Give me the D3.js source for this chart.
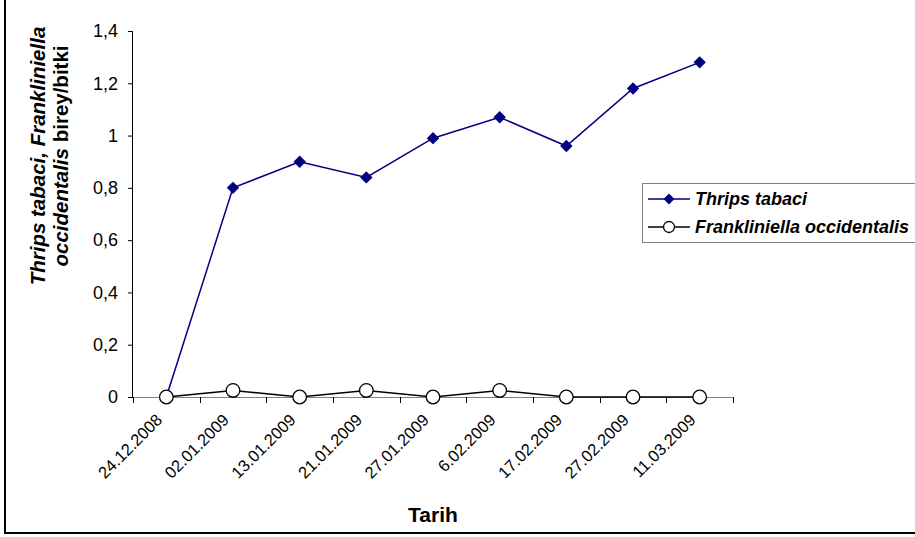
<!DOCTYPE html>
<html>
<head>
<meta charset="utf-8">
<script src="https://cdn.jsdelivr.net/npm/d3@7"></script>
<style>
  html, body { margin: 0; padding: 0; background: #fff; }
  svg { display: block; font-family: "Liberation Sans", Arial, sans-serif; }
</style>
</head>
<body>
<svg id="chart" width="915" height="537"></svg>
<script>
// Sampling dates (x categories)
const dates = ["24.12.2008", "02.01.2009", "13.01.2009", "21.01.2009", "27.01.2009",
               "6.02.2009", "17.02.2009", "27.02.2009", "11.03.2009"];
// Mean individuals per plant
const thripsTabaci = [0, 0.8, 0.9, 0.84, 0.99, 1.07, 0.96, 1.18, 1.28];
const franklOccidentalis = [0, 0.025, 0, 0.025, 0, 0.025, 0, 0, 0];
// Y axis tick values and labels
const yTicks = [0, 0.2, 0.4, 0.6, 0.8, 1, 1.2, 1.4];
const yTickLabels = ["0", "0,2", "0,4", "0,6", "0,8", "1", "1,2", "1,4"];

const svg = d3.select("#chart");
const plot = { left: 133, right: 733, top: 31, bottom: 397 };

const x = d3.scaleBand().domain(dates).range([plot.left, plot.right]).padding(0);
const y = d3.scaleLinear().domain([0, 1.4]).range([plot.bottom, plot.top]);
const cx = d => x(d) + x.bandwidth() / 2;

// Outer frame (left and bottom edges)
svg.append("line").attr("x1", 5).attr("x2", 5).attr("y1", 0).attr("y2", 534)
  .attr("stroke", "#000").attr("stroke-width", 2);
svg.append("line").attr("x1", 4).attr("x2", 915).attr("y1", 533).attr("y2", 533)
  .attr("stroke", "#000").attr("stroke-width", 2);

// Y axis
const yAxis = svg.append("g").attr("transform", `translate(${plot.left},0)`)
  .call(d3.axisLeft(y).tickValues(yTicks).tickSize(5).tickPadding(10)
    .tickFormat((d, i) => yTickLabels[i]));
yAxis.select(".domain").attr("stroke", "#000").attr("d", `M-0.5,${plot.top}V${plot.bottom}`);
yAxis.selectAll(".tick line").attr("stroke", "#000");
yAxis.selectAll(".tick text").attr("font-size", 18).attr("fill", "#000")
  .attr("font-family", "Liberation Sans, Arial, sans-serif");

// X axis with ticks at category boundaries
const xAxisG = svg.append("g").attr("transform", `translate(0,${plot.bottom})`);
xAxisG.append("line").attr("x1", plot.left).attr("x2", plot.right)
  .attr("y1", 0.5).attr("y2", 0.5).attr("stroke", "#808080");
const bounds = dates.map(d => x(d)).concat([plot.right]);
xAxisG.selectAll("line.tk").data(bounds).join("line").attr("class", "tk")
  .attr("x1", d => Math.round(d) + 0.5).attr("x2", d => Math.round(d) + 0.5)
  .attr("y1", 0).attr("y2", 6).attr("stroke", "#000");
xAxisG.selectAll("text").data(dates).join("text")
  .attr("transform", d => `translate(${cx(d) - 3},${24}) rotate(-45)`)
  .attr("text-anchor", "end")
  .attr("font-size", 16.5)
  .attr("fill", "#000")
  .text(d => d);

// X axis title
svg.append("text").attr("x", 433).attr("y", 522).attr("text-anchor", "middle")
  .attr("font-size", 21).attr("font-weight", "bold").text("Tarih");

// Y axis title (two lines, species names in italics)
const yTitle = svg.append("text").attr("transform", "rotate(-90)")
  .attr("text-anchor", "middle").attr("font-size", 20.5).attr("font-weight", "bold");
const l1 = yTitle.append("tspan").attr("x", -156).attr("y", 45);
l1.append("tspan").attr("font-style", "italic").text("Thrips tabaci, Frankliniella");
const l2 = yTitle.append("tspan").attr("x", -156).attr("y", 68);
l2.append("tspan").attr("font-style", "italic").text("occidentalis");
l2.append("tspan").text(" birey/bitki");

// Series lines
const line = d3.line().x((d, i) => cx(dates[i])).y(d => y(d));
svg.append("path").datum(franklOccidentalis).attr("d", line)
  .attr("fill", "none").attr("stroke", "#000").attr("stroke-width", 1.5);
svg.append("path").datum(thripsTabaci).attr("d", line)
  .attr("fill", "none").attr("stroke", "#000080").attr("stroke-width", 1.5);

// Thrips tabaci markers (diamonds)
svg.append("g").selectAll("path").data(thripsTabaci).join("path")
  .attr("transform", (d, i) => `translate(${cx(dates[i])},${y(d)}) rotate(45)`)
  .attr("d", d3.symbol().type(d3.symbolSquare).size(60))
  .attr("fill", "#000080").attr("stroke", "#000080");

// Frankliniella occidentalis markers (open circles)
svg.append("g").selectAll("circle").data(franklOccidentalis).join("circle")
  .attr("cx", (d, i) => cx(dates[i])).attr("cy", d => y(d)).attr("r", 6.8)
  .attr("fill", "#fff").attr("stroke", "#000").attr("stroke-width", 1.3);

// Legend
const lg = svg.append("g").attr("transform", "translate(642,183)");
lg.append("rect").attr("x", 0.5).attr("y", 0.5).attr("width", 290).attr("height", 59)
  .attr("fill", "#fff").attr("stroke", "#808080");
lg.append("line").attr("x1", 6).attr("x2", 48).attr("y1", 16).attr("y2", 16)
  .attr("stroke", "#000080").attr("stroke-width", 1.5);
lg.append("path").attr("transform", "translate(27,16) rotate(45)")
  .attr("d", d3.symbol().type(d3.symbolSquare).size(60)).attr("fill", "#000080");
lg.append("text").attr("x", 53).attr("y", 22).attr("font-size", 18)
  .attr("font-weight", "bold").attr("font-style", "italic").text("Thrips tabaci");
lg.append("line").attr("x1", 6).attr("x2", 48).attr("y1", 44).attr("y2", 44)
  .attr("stroke", "#000").attr("stroke-width", 1.5);
lg.append("circle").attr("cx", 27).attr("cy", 44).attr("r", 5.5)
  .attr("fill", "#fff").attr("stroke", "#000").attr("stroke-width", 1.3);
lg.append("text").attr("x", 53).attr("y", 50).attr("font-size", 18)
  .attr("font-weight", "bold").attr("font-style", "italic").text("Frankliniella occidentalis");
</script>
</body>
</html>
